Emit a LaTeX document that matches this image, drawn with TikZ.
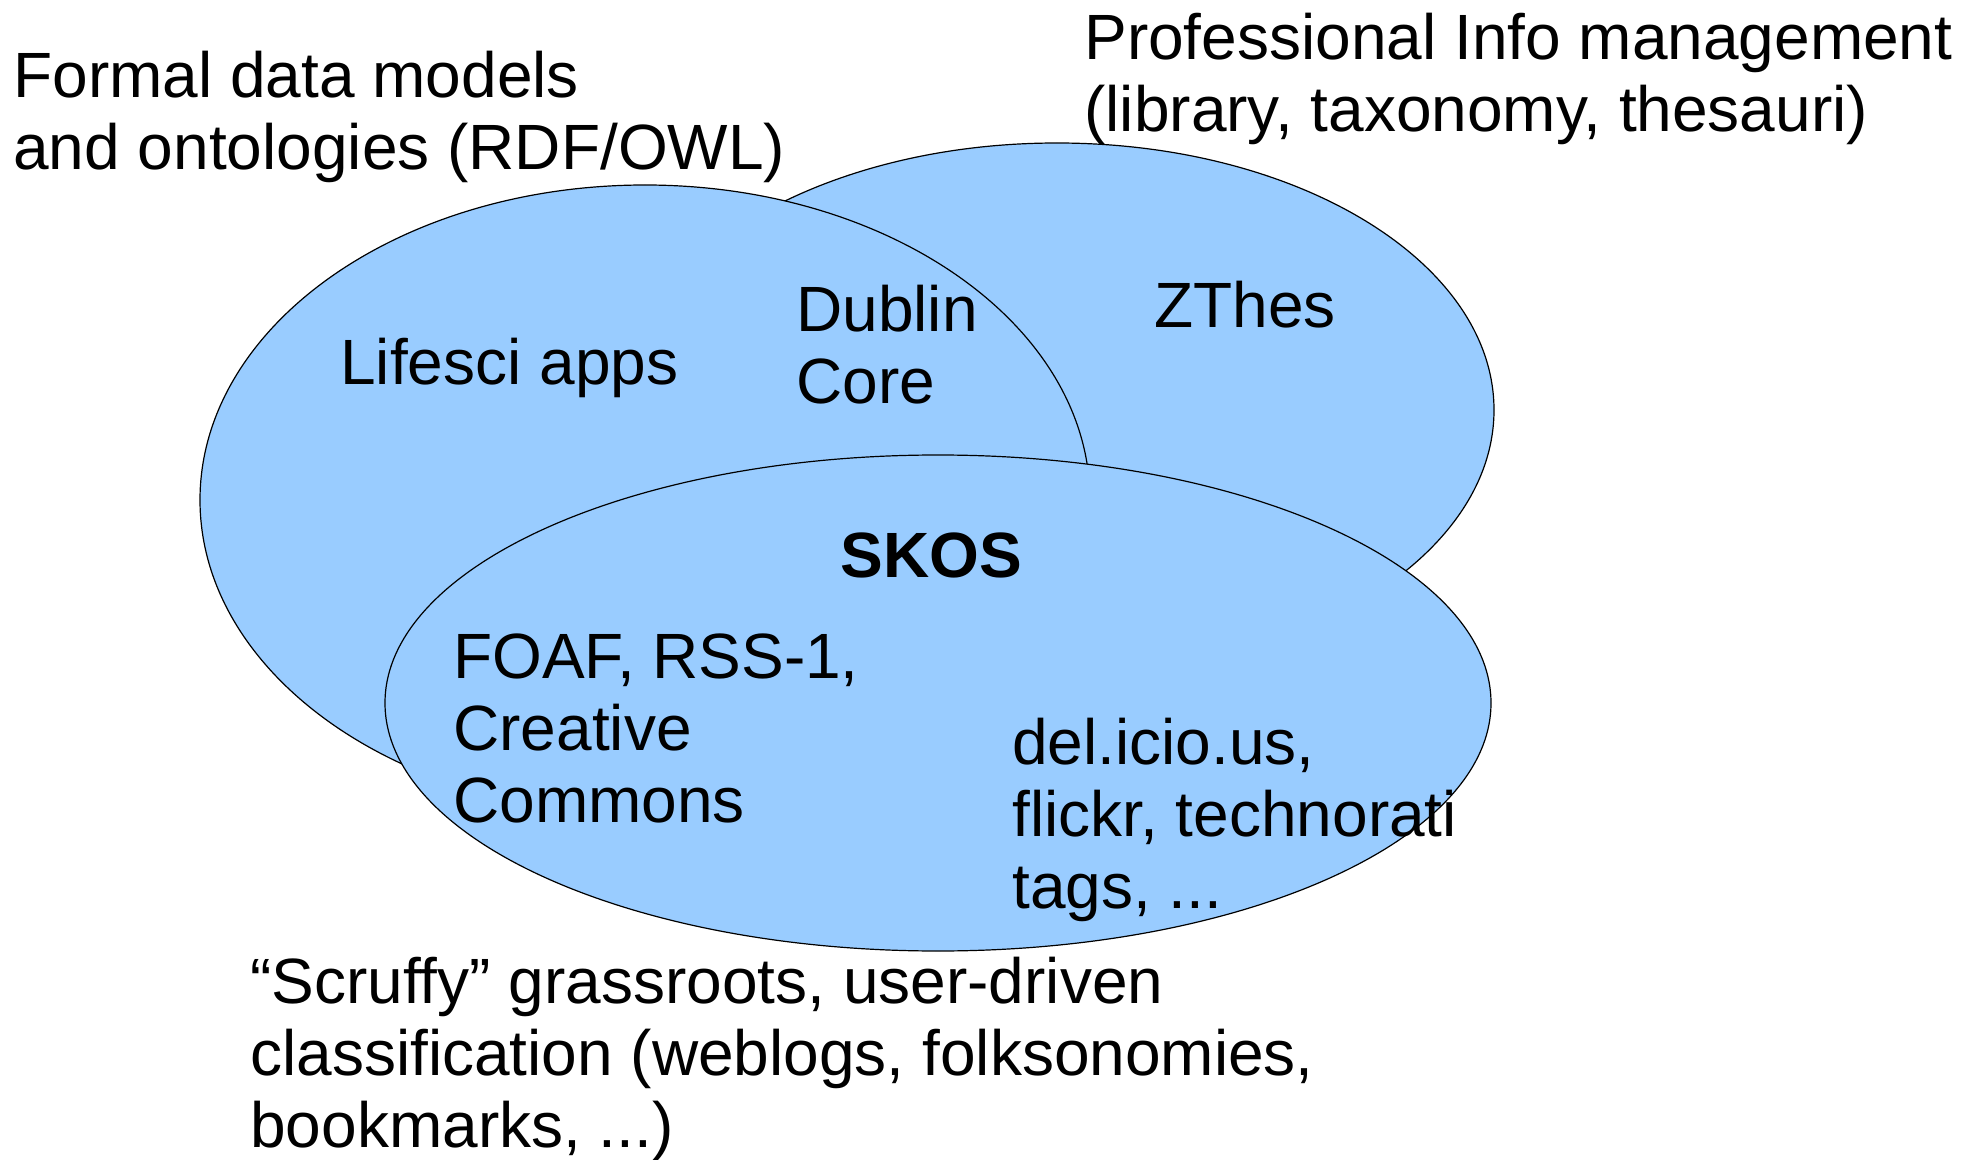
\documentclass[tikz,border=0pt]{standalone}
\usepackage{fontspec}
\setmainfont{Liberation Sans}
\definecolor{venn}{HTML}{99CCFF}
\begin{document}
\begin{tikzpicture}[x=0.5pt,y=-0.5pt,
  setshape/.style={fill=venn,draw=black,line width=0.6pt},
  lbl/.style={font=\fontsize{32}{36}\selectfont,align=left,anchor=base west,inner sep=0pt}]
\useasboundingbox (0,0) rectangle (1971,1160);
% sets
\draw[setshape] (1057,410) ellipse [x radius=218.5pt, y radius=133.5pt];
\draw[setshape] (645,500) ellipse [x radius=222.5pt, y radius=157.5pt];
\draw[setshape] (938,703) ellipse [x radius=276.5pt, y radius=124pt];
% outer labels (anchor = baseline of last line)
\node[lbl] (formal) at (13,170) {Formal data models\\and ontologies (RDF/OWL)};
\node[lbl] (prof) at (1084,132) {Professional Info management\\(library, taxonomy, thesauri)};
\node[lbl] (scruffy) at (250,1147) {“Scruffy” grassroots, user-driven\\classification (weblogs, folksonomies,\\bookmarks, ...)};
% inner labels
\node[lbl] (lifesci) at (340,385) {Lifesci apps};
\node[lbl] (dublin) at (796,404) {Dublin\\Core};
\node[lbl] (zthes) at (1154,328) {ZThes};
\node[lbl,font=\fontsize{32}{36}\selectfont\bfseries] (skos) at (840,577) {SKOS};
\node[lbl] (foaf) at (453,822) {FOAF, RSS-1,\\Creative\\Commons};
\node[lbl] (delicious) at (1012,908) {del.icio.us,\\flickr, technorati\\tags, ...};
\end{tikzpicture}
\end{document}
